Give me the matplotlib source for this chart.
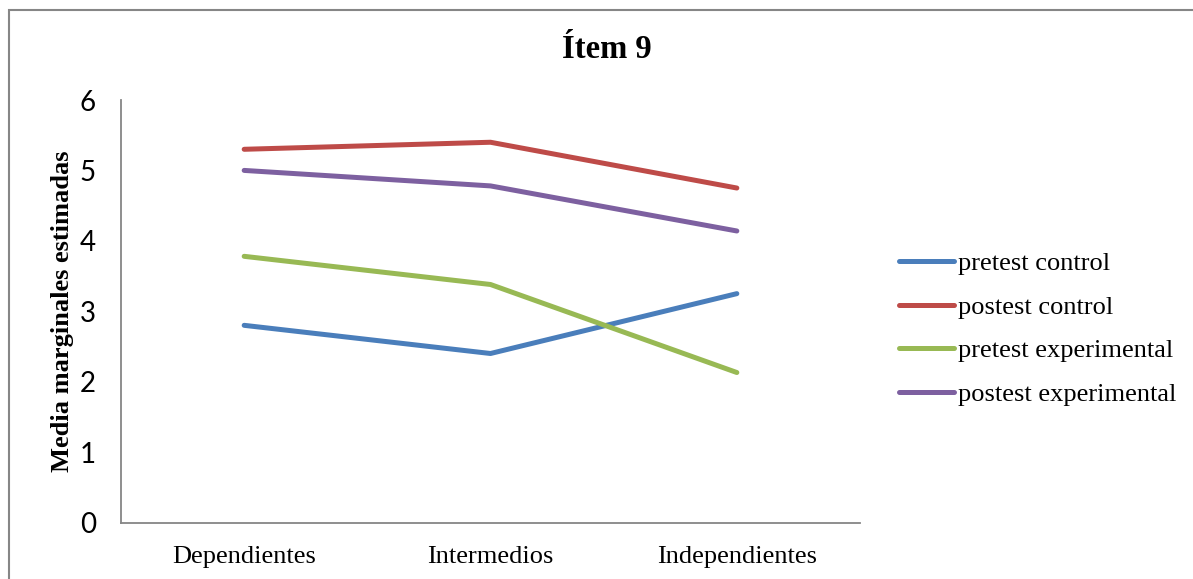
import matplotlib
matplotlib.use("Agg")
import matplotlib.pyplot as plt
from matplotlib.patches import Rectangle

categories = ["Dependientes", "Intermedios", "Independientes"]
series_names = ["pretest control", "postest control",
                "pretest experimental", "postest experimental"]
pretest_control = [2.80, 2.40, 3.25]
postest_control = [5.30, 5.40, 4.75]
pretest_experimental = [3.78, 3.38, 2.13]
postest_experimental = [5.00, 4.78, 4.14]
y_ticks = [0, 1, 2, 3, 4, 5, 6]

colors = ["#4A7EBB", "#BE4B48", "#98B954", "#7D60A0"]
serif = "Liberation Serif"
sans = "Lato"

W, H = 1193, 579
fig = plt.figure(figsize=(W / 100, H / 100), dpi=100)
fig.patch.set_facecolor("white")

# outer chart-area frame (only its top and left edges fall inside the image)
fig.patches.append(Rectangle((8.5 / W, -0.2), 1.5, 1.2 - 9.5 / H, transform=fig.transFigure,
                             fill=False, edgecolor="#868686", linewidth=1.5))

ax = fig.add_axes([121 / W, 1 - 522.5 / H, (860 - 121) / W, (522.5 - 100) / H])
x = range(len(categories))
for vals, name, c in zip([pretest_control, postest_control,
                          pretest_experimental, postest_experimental],
                         series_names, colors):
    ax.plot(x, vals, color=c, linewidth=3.6, solid_capstyle="round",
            solid_joinstyle="round", label=name)

ax.set_xlim(-0.5, 2.5)
ax.set_ylim(0, 6)
ax.set_yticks(y_ticks)
ax.set_yticklabels([str(v) for v in y_ticks], fontfamily=sans, fontsize=20)
ax.set_xticks(list(x))
ax.set_xticklabels(categories, fontfamily=serif, fontsize=19)
ax.tick_params(axis="both", length=0)
ax.tick_params(axis="y", pad=18)
ax.tick_params(axis="x", pad=17)
for s in ["top", "right"]:
    ax.spines[s].set_visible(False)
for s in ["left", "bottom"]:
    ax.spines[s].set_color("#868686")
    ax.spines[s].set_linewidth(1.3)

ax.set_ylabel("Media marginales estimadas", fontfamily=serif, fontweight="bold",
              fontsize=19, labelpad=4)

fig.text(607 / W, 1 - 50 / H, "Ítem 9", fontfamily=serif, fontweight="bold",
         fontsize=23.5, ha="center", va="center")

leg = fig.legend(loc="center left", bbox_to_anchor=(899 / W, 1 - 329 / H),
                 frameon=False, prop={"family": serif, "size": 19},
                 handlelength=2.1, handletextpad=0.12, labelspacing=0.76,
                 borderpad=0, borderaxespad=0)

fig.savefig("out.png", dpi=100, facecolor="white")
